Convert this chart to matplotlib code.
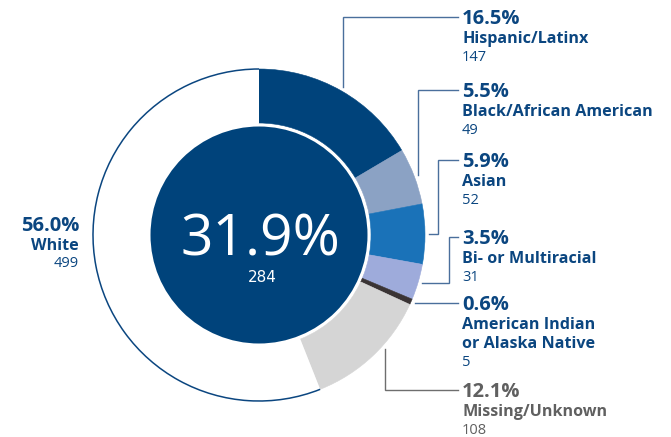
import matplotlib
matplotlib.use("Agg")
import matplotlib.pyplot as plt
from matplotlib.patches import Circle, Arc
import numpy as np

# data
groups = ["Hispanic/Latinx", "Black/African American", "Asian", "Bi- or Multiracial",
          "American Indian\nor Alaska Native", "Missing/Unknown", "White"]
counts = [147, 49, 52, 31, 5, 108, 499]
pcts = ["16.5%", "5.5%", "5.9%", "3.5%", "0.6%", "12.1%", "56.0%"]
center_pct = "31.9%"
center_count = "284"

colors = ["#00437b", "#8ba2c4", "#1a72b8", "#9eabdb", "#3a3435", "#d5d5d5", "white"]
text_colors = ["#0b4680"] * 5 + ["#606060", "#0b4680"]
line_colors = ["#4a6f9c"] * 5 + ["#6e6e6e"]

# layout (pixels, top-left origin)
W, H = 671, 437
cx, cy = 259, 235
R_out, R_in, R_core = 166, 112, 108.5
label_x = 462
line_end_x = 458
pct_base = [24, 97, 167, 244, 310, 397]
elbow_x = [None, None, 438, 449, None, None]
anchor_frac = [0.5, 0.5, 0.5, 0.5, 0.5, 0.6]

FONT = "Open Sans"

def Y(py):
    return H - py

fig = plt.figure(figsize=(W / 100, H / 100), dpi=100)
ax = fig.add_axes([0, 0, 1, 1])

wedges, _ = ax.pie(counts, colors=colors, startangle=90, counterclock=False,
                   radius=R_out, center=(cx, Y(cy)),
                   wedgeprops=dict(width=R_out - R_in, edgecolor="none", linewidth=0))
for w, c in zip(wedges, colors):
    if c != "white":
        w.set_edgecolor(c)
        w.set_linewidth(0.4)

# outline of the white slice
ww = wedges[-1]
ax.add_patch(Arc((cx, Y(cy)), 2 * R_out, 2 * R_out, theta1=ww.theta1, theta2=ww.theta2,
                 color="#0b4680", lw=1.1))

# center disc
ax.add_patch(Circle((cx, Y(cy)), R_core, facecolor="#00437b", edgecolor="none", zorder=3))
ax.text(260, Y(256), center_pct, color="white", fontsize=41, family=FONT,
        ha="center", va="baseline", zorder=4)
ax.text(262, Y(282), center_count, color="white", fontsize=11, family="DejaVu Sans",
        ha="center", va="baseline", zorder=4)

# right side labels with leader lines
for i in range(6):
    w = wedges[i]
    a = np.deg2rad(w.theta1 + anchor_frac[i] * (w.theta2 - w.theta1))
    ax_x = cx + 170 * np.cos(a)
    ax_y = Y(cy) + 170 * np.sin(a)
    ly = Y(pct_base[i] - 7)
    ex = ax_x if elbow_x[i] is None else elbow_x[i]
    ax.plot([ax_x, ex, ex, line_end_x], [ax_y, ax_y, ly, ly],
            color=line_colors[i], lw=1.0, solid_joinstyle="miter")

    b = pct_base[i]
    ax.text(label_x, Y(b), pcts[i], color=text_colors[i], fontsize=14.5,
            fontweight="bold", family=FONT, va="baseline", ha="left")
    lines = groups[i].split("\n")
    for k, ln in enumerate(lines):
        ax.text(label_x, Y(b + 19 + 19 * k), ln, color=text_colors[i], fontsize=11.6,
                fontweight="bold", family=FONT, va="baseline", ha="left")
    ax.text(label_x, Y(b + 19 * len(lines) + 18), str(counts[i]), color=text_colors[i],
            fontsize=10.5, family=FONT, va="baseline", ha="left")

# White label on the left
ax.text(79, Y(231), pcts[6], color=text_colors[6], fontsize=14.5, fontweight="bold",
        family=FONT, ha="right", va="baseline")
ax.text(79, Y(250), groups[6], color=text_colors[6], fontsize=11.6, fontweight="bold",
        family=FONT, ha="right", va="baseline")
ax.text(79, Y(267), str(counts[6]), color=text_colors[6], fontsize=10.5,
        family=FONT, ha="right", va="baseline")

ax.set_xlim(0, W)
ax.set_ylim(0, H)
ax.set_aspect("auto")
ax.axis("off")

fig.savefig("out.png", dpi=100)
